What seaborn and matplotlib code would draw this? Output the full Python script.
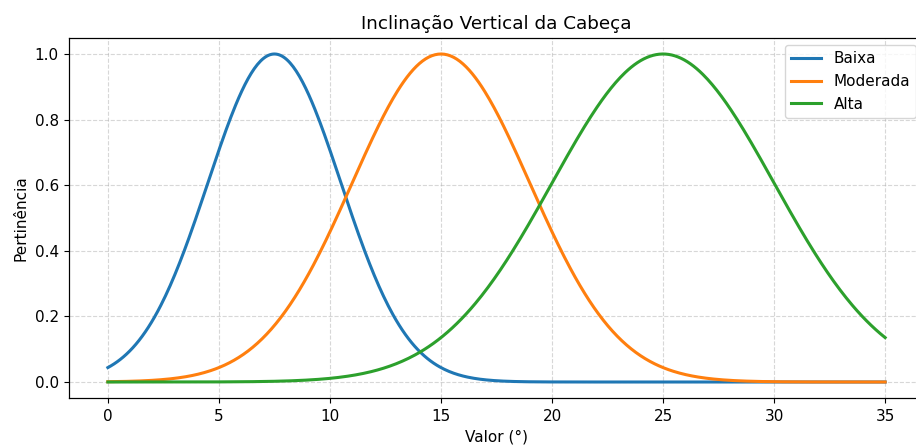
import numpy as np
import pandas as pd
import matplotlib
matplotlib.use("Agg")
import matplotlib.pyplot as plt
import seaborn as sns

# Gaussian membership function parameters
labels = ["Baixa", "Moderada", "Alta"]
centers = [7.5, 15.0, 25.0]
sigmas = [3.0, 4.0, 5.0]
x_range = [0, 35]

x = np.linspace(x_range[0], x_range[1], 500)
frames = []
for lab, c, s in zip(labels, centers, sigmas):
    frames.append(pd.DataFrame({"Valor": x,
                                "Pertinência": np.exp(-((x - c) ** 2) / (2 * s ** 2)),
                                "Conjunto": lab}))
df = pd.concat(frames, ignore_index=True)

k = 1.1
plt.rcParams['font.family'] = ['DejaVu Sans']
plt.rcParams['font.size'] = 10 * k
plt.rcParams['xtick.major.size'] = 3.5 * k
plt.rcParams['ytick.major.size'] = 3.5 * k
plt.rcParams['axes.linewidth'] = 0.8 * k
fig = plt.figure(figsize=(9.16, 4.48), dpi=100)
ax = fig.add_axes([69 / 916, 49.6 / 448, (924 - 69) / 916, 360.8 / 448])
sns.lineplot(data=df, x="Valor", y="Pertinência", hue="Conjunto",
             palette=["#1f77b4", "#ff7f0e", "#2ca02c"], linewidth=2 * k, ax=ax)
ax.set_title("Inclinação Vertical da Cabeça", fontsize=12 * k)
ax.set_xlabel("Valor (°)", fontsize=10 * k)
ax.set_ylabel("Pertinência", fontsize=10 * k)
ax.tick_params(labelsize=10 * k)
ax.set_xlim(-1.75, 36.75)
ax.set_ylim(-0.05, 1.05)
ax.grid(True, linestyle="--", alpha=0.5)
ax.legend(loc="upper right", title=None, fontsize=10 * k)
fig.savefig("out.png", dpi=100)
